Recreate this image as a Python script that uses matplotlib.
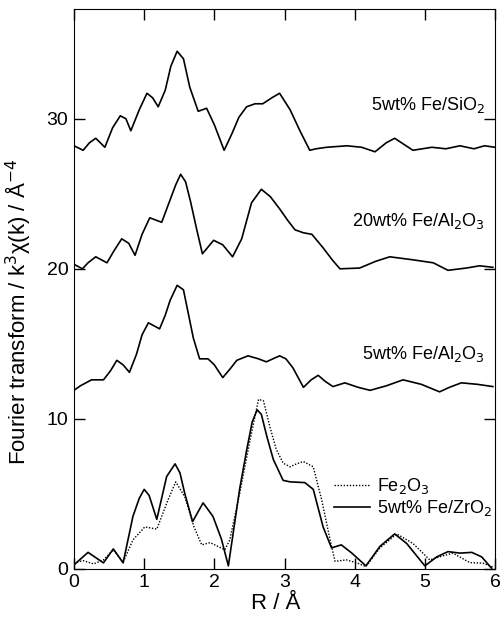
import numpy as np
import matplotlib
matplotlib.use("Agg")
import matplotlib.pyplot as plt

plt.rcParams['font.family'] = ['Liberation Sans', 'DejaVu Sans']

# 5wt% Fe/SiO2
r_sio2 = [0.0, 0.13, 0.22, 0.31, 0.44, 0.55, 0.66, 0.74, 0.81, 0.93, 1.04, 1.12, 1.20, 1.30,
          1.38, 1.47, 1.56, 1.65, 1.77, 1.89, 2.0, 2.14, 2.25, 2.35, 2.46, 2.58, 2.69, 2.82,
          2.93, 3.08, 3.22, 3.36, 3.45, 3.6, 3.89, 4.1, 4.29, 4.45, 4.57, 4.7, 4.83, 5.1,
          5.3, 5.5, 5.7, 5.85, 6.0]
ft_sio2 = [28.2, 27.9, 28.4, 28.7, 28.1, 29.4, 30.2, 30.0, 29.2, 30.6, 31.7, 31.4, 30.8, 31.9,
           33.5, 34.5, 34.0, 32.1, 30.5, 30.7, 29.6, 27.9, 29.0, 30.1, 30.8, 31.0, 31.0, 31.4,
           31.7, 30.6, 29.2, 27.9, 28.0, 28.1, 28.2, 28.1, 27.8, 28.4, 28.7, 28.3, 27.9, 28.1,
           28.0, 28.2, 28.0, 28.2, 28.1]

# 20wt% Fe/Al2O3
r_al20 = [0.0, 0.12, 0.2, 0.31, 0.47, 0.57, 0.68, 0.78, 0.87, 0.97, 1.08, 1.25, 1.37, 1.45,
          1.52, 1.59, 1.66, 1.75, 1.83, 1.99, 2.12, 2.26, 2.39, 2.53, 2.67, 2.8, 2.93, 3.05,
          3.15, 3.27, 3.39, 3.55, 3.68, 3.79, 4.07, 4.3, 4.5, 4.83, 5.12, 5.33, 5.59, 5.78, 5.97]
ft_al20 = [20.3, 20.0, 20.4, 20.8, 20.4, 21.2, 22.0, 21.7, 20.9, 22.3, 23.4, 23.1, 24.6, 25.6,
           26.3, 25.8, 24.5, 22.6, 21.0, 21.9, 21.6, 20.8, 22.0, 24.4, 25.3, 24.8, 24.0, 23.2,
           22.6, 22.4, 22.3, 21.4, 20.6, 20.0, 20.05, 20.5, 20.8, 20.6, 20.4, 19.9, 20.05, 20.2, 20.1]

# 5wt% Fe/Al2O3
r_al5 = [0.0, 0.09, 0.25, 0.42, 0.52, 0.61, 0.7, 0.79, 0.89, 0.97, 1.06, 1.22, 1.30, 1.37,
         1.47, 1.56, 1.63, 1.7, 1.79, 1.91, 2.0, 2.12, 2.22, 2.32, 2.48, 2.63, 2.74, 2.93,
         3.02, 3.12, 3.27, 3.38, 3.48, 3.58, 3.69, 3.86, 4.05, 4.22, 4.45, 4.69, 4.95, 5.21,
         5.35, 5.52, 5.75, 5.97]
ft_al5 = [11.9, 12.2, 12.6, 12.6, 13.2, 13.9, 13.6, 13.1, 14.3, 15.6, 16.4, 16.0, 16.9, 17.9,
          18.9, 18.6, 17.0, 15.4, 14.0, 14.0, 13.6, 12.75, 13.3, 13.9, 14.2, 14.0, 13.8, 14.2,
          14.0, 13.4, 12.1, 12.6, 12.9, 12.5, 12.15, 12.4, 12.1, 11.9, 12.2, 12.6, 12.3, 11.8,
          12.1, 12.4, 12.3, 12.15]

# Fe2O3 (dotted)
r_fe2o3 = [0.0, 0.13, 0.28, 0.42, 0.56, 0.70, 0.84, 1.01, 1.18, 1.34, 1.45, 1.58, 1.71, 1.82,
           1.94, 2.05, 2.15, 2.22, 2.36, 2.51, 2.63, 2.7, 2.79, 2.88, 2.98, 3.08, 3.17, 3.27,
           3.41, 3.53, 3.65, 3.72, 3.88, 4.03, 4.16, 4.36, 4.6, 4.83, 5.07, 5.26, 5.40, 5.64,
           5.83, 5.98]
ft_fe2o3 = [0.4, 0.55, 0.33, 0.6, 1.27, 0.45, 1.93, 2.8, 2.65, 4.6, 5.8, 4.8, 2.8, 1.6,
            1.75, 1.5, 1.27, 1.93, 5.0, 8.6, 11.3, 11.2, 9.5, 8.0, 7.05, 6.8, 7.0, 7.15,
            6.8, 4.6, 1.93, 0.5, 0.6, 0.4, 0.15, 1.4, 2.33, 1.7, 0.6, 0.87, 1.05, 0.42,
            0.38, 0.1]

# 5wt% Fe/ZrO2
r_zro2 = [0.0, 0.20, 0.42, 0.56, 0.70, 0.84, 0.93, 1.0, 1.07, 1.18, 1.32, 1.44, 1.51, 1.58,
          1.69, 1.84, 1.98, 2.10, 2.20, 2.36, 2.46, 2.54, 2.61, 2.67, 2.75, 2.84, 2.98, 3.08,
          3.29, 3.41, 3.55, 3.67, 3.81, 3.96, 4.16, 4.36, 4.57, 4.74, 5.0, 5.17, 5.33, 5.50,
          5.67, 5.81, 5.95]
ft_zro2 = [0.27, 1.1, 0.4, 1.33, 0.4, 3.5, 4.7, 5.3, 4.9, 3.3, 6.15, 7.0, 6.4, 5.0,
           3.15, 4.4, 3.5, 2.0, 0.2, 5.3, 7.9, 9.8, 10.6, 10.3, 8.8, 7.3, 5.9, 5.8,
           5.75, 5.3, 2.8, 1.4, 1.6, 1.05, 0.2, 1.5, 2.33, 1.7, 0.2, 0.8, 1.15, 1.05,
           1.1, 0.8, 0.05]

labels = ['5wt% Fe/SiO$_2$', '20wt% Fe/Al$_2$O$_3$', '5wt% Fe/Al$_2$O$_3$']
label_y = [30.9, 23.2, 14.3]

fig = plt.figure(figsize=(5, 6.17), dpi=100)
ax = fig.add_axes([0.148, 0.078, 0.842, 0.907])

ax.plot(r_sio2, ft_sio2, color='black', lw=1.2)
ax.plot(r_al20, ft_al20, color='black', lw=1.2)
ax.plot(r_al5, ft_al5, color='black', lw=1.2)
ax.plot(r_fe2o3, ft_fe2o3, color='black', lw=1.0, ls=(0, (1, 1.2)), label='Fe$_2$O$_3$')
ax.plot(r_zro2, ft_zro2, color='black', lw=1.2, label='5wt% Fe/ZrO$_2$')

for lab, yy in zip(labels, label_y):
    ax.text(5.85, yy, lab, ha='right', va='center', fontsize=13)

ax.legend(loc='upper left', bbox_to_anchor=(0.6, 0.178), frameon=False, fontsize=13,
          handlelength=2.0, handletextpad=0.4, labelspacing=0.1, borderaxespad=0)

ax.set_xlim(0, 6)
ax.set_ylim(0, 37.3)
ax.set_xticks(range(7))
ax.set_yticks([0, 10, 20, 30])
ax.tick_params(direction='in', top=True, right=True, length=8, width=1, labelsize=14, pad=4)
ax.set_xlabel('R / Å', fontsize=16, labelpad=0)
ax.set_ylabel('Fourier transform / k$^3$χ(k) / Å$^{-4}$', fontsize=16)
ax.yaxis.set_label_coords(-0.097, 0.46)
ax.xaxis.set_label_coords(0.48, -0.043)

fig.savefig('out.png', dpi=100)
